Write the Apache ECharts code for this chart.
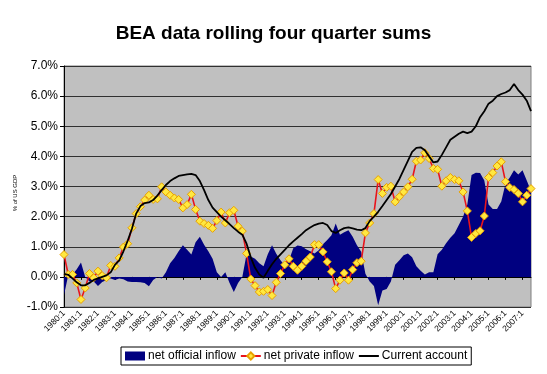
<!DOCTYPE html>
<html>
<head>
<meta charset="utf-8">
<script src="https://cdn.jsdelivr.net/npm/echarts@6/dist/echarts.min.js"></script>
<style>
html,body{margin:0;padding:0;background:#fff;}
#chart{width:547px;height:374px;}
</style>
</head>
<body>
<div id="chart"></div>
<script>
// Quarterly categories 1980:1 .. 2007:3
var years = [1980,1981,1982,1983,1984,1985,1986,1987,1988,1989,1990,1991,1992,1993,1994,1995,1996,1997,1998,1999,2000,2001,2002,2003,2004,2005,2006,2007];
var quarters = [1,2,3,4];
var lastQuarter = 3;
var categories = [];
years.forEach(function(y){
  quarters.forEach(function(q){
    if (y === 2007 && q > lastQuarter) return;
    categories.push(y + ':' + q);
  });
});

var yTicks = [-1,0,1,2,3,4,5,6,7];

// net official inflow, % of US GDP
var officialInflow = [
 -0.6,0.05,0.08,0.25,0.48,0.0,-0.15,-0.15,-0.3,-0.17,
 -0.1,-0.05,-0.1,-0.05,-0.08,-0.15,-0.17,-0.17,-0.18,-0.2,
 -0.31,-0.1,0.0,-0.05,0.15,0.45,0.63,0.85,1.05,0.9,
 0.74,1.15,1.33,1.07,0.85,0.6,0.15,0.0,0.15,-0.2,
 -0.5,-0.2,0.0,0.75,0.68,0.6,0.45,0.35,0.75,1.05,
 0.77,0.55,0.38,0.55,0.95,1.04,1.02,0.92,0.85,0.78,
 0.88,1.08,1.22,1.38,1.77,1.4,1.48,1.55,1.33,1.05,
 0.83,0.1,-0.15,-0.3,-0.94,-0.45,-0.4,-0.15,0.4,0.55,
 0.72,0.78,0.65,0.35,0.2,0.08,0.15,0.15,0.75,0.9,
 1.12,1.3,1.45,1.72,2.0,2.4,3.38,3.46,3.45,3.2,
 2.4,2.25,2.25,2.5,3.1,3.3,3.54,3.4,3.54,3.2,
 2.85
];

// net private inflow, % of US GDP
var privateInflow = [
 0.74,0.08,0.08,-0.2,-0.75,-0.37,0.11,-0.03,0.19,0.04,
 -0.03,0.38,0.35,0.63,0.99,1.1,1.63,2.1,2.33,2.55,
 2.71,2.57,2.59,2.99,2.82,2.71,2.62,2.57,2.29,2.40,
 2.74,2.24,1.85,1.77,1.71,1.61,1.87,2.15,1.79,2.13,
 2.21,1.68,1.52,0.78,-0.07,-0.29,-0.5,-0.48,-0.42,-0.62,
 -0.18,0.11,0.4,0.6,0.35,0.22,0.35,0.52,0.66,1.07,
 1.07,0.83,0.5,0.17,-0.39,-0.11,0.13,-0.11,0.24,0.47,
 0.52,1.46,1.79,2.1,3.23,2.77,2.97,3.01,2.49,2.66,
 2.82,2.99,3.24,3.84,3.88,4.12,3.93,3.6,3.57,3.01,
 3.19,3.3,3.23,3.19,2.82,2.19,1.31,1.44,1.53,2.02,
 3.3,3.46,3.68,3.82,3.16,2.97,2.9,2.77,2.49,2.71,
 2.93
];

// Current account, % of US GDP
var currentAccount = [
 0.1,0.07,-0.05,-0.18,-0.28,-0.28,-0.2,-0.1,-0.05,0.0,
 0.05,0.15,0.4,0.55,0.85,1.2,1.6,2.1,2.35,2.45,
 2.47,2.55,2.7,2.88,3.05,3.18,3.27,3.35,3.38,3.4,
 3.42,3.38,3.18,2.88,2.55,2.3,2.15,2.0,1.88,1.75,
 1.62,1.5,1.4,1.1,0.65,0.3,0.08,-0.03,0.2,0.42,
 0.6,0.75,0.9,1.05,1.18,1.3,1.42,1.55,1.64,1.72,
 1.77,1.79,1.72,1.52,1.46,1.55,1.62,1.64,1.61,1.57,
 1.55,1.62,1.85,2.0,2.16,2.35,2.55,2.75,3.0,3.25,
 3.55,3.85,4.15,4.28,4.3,4.2,4.0,3.8,3.83,4.05,
 4.3,4.55,4.65,4.75,4.82,4.77,4.82,5.0,5.3,5.5,
 5.75,5.85,6.0,6.07,6.12,6.2,6.4,6.2,6.05,5.85,
 5.5
];

var FONT = '"Liberation Sans", Arial, sans-serif';
var chart = echarts.init(document.getElementById('chart'), null, {renderer: 'canvas'});

chart.setOption({
  backgroundColor: '#ffffff',
  animation: false,
  textStyle: {fontFamily: FONT, color: '#000'},
  title: {
    text: 'BEA data rolling four quarter sums',
    left: 'center',
    top: 19,
    textStyle: {fontFamily: FONT, fontSize: 19, fontWeight: 'bold', color: '#000'}
  },
  graphic: [{
    type: 'text',
    x: 15,
    y: 193,
    rotation: Math.PI / 2,
    style: {
      text: '% of US GDP',
      align: 'center',
      verticalAlign: 'middle',
      fontFamily: FONT,
      fontSize: 6,
      fill: '#000'
    }
  }],
  legend: {
    left: 121,
    top: 347,
    padding: [3, 4, 3, 4],
    itemGap: 4,
    itemWidth: 20,
    itemHeight: 9,
    borderColor: '#000',
    borderWidth: 1,
    backgroundColor: '#fff',
    textStyle: {fontFamily: FONT, fontSize: 12, color: '#000', padding: [0,0,0,-2]},
    data: [
      {name: 'net official inflow', icon: 'rect'},
      {name: 'net private inflow'},
      {name: 'Current account', itemStyle: {opacity: 0}}
    ]
  },
  grid: {
    left: 64, right: 16, top: 66, bottom: 67,
    show: true,
    backgroundColor: '#C0C0C0',
    borderColor: '#808080',
    borderWidth: 1
  },
  xAxis: [
    {
      type: 'category',
      data: categories,
      boundaryGap: false,
      position: 'bottom',
      axisLine: {show: false, onZero: false},
      axisTick: {show: false},
      splitLine: {show: false},
      axisLabel: {
        interval: 3,
        rotate: 45,
        margin: 5,
        fontSize: 8.5,
        fontFamily: FONT,
        color: '#000'
      }
    },
    {
      type: 'category',
      data: categories,
      boundaryGap: false,
      position: 'bottom',
      axisLine: {show: true, onZero: true, onZeroAxisIndex: 0, lineStyle: {color: '#000', width: 1}},
      axisTick: {show: true, interval: 3, length: 3, inside: false, lineStyle: {color: '#000'}},
      axisLabel: {show: false},
      splitLine: {show: false}
    }
  ],
  yAxis: {
    type: 'value',
    min: yTicks[0],
    max: yTicks[yTicks.length - 1],
    interval: 1,
    axisLine: {show: true, lineStyle: {color: '#000', width: 1}},
    axisTick: {show: true, length: 4, lineStyle: {color: '#000'}},
    axisLabel: {
      margin: 6,
      fontSize: 12,
      fontFamily: FONT,
      color: '#000',
      formatter: function (v) { return v.toFixed(1) + '%'; }
    },
    splitLine: {show: true, lineStyle: {color: '#303030', width: 1}}
  },
  series: [
    {
      name: 'net official inflow',
      type: 'line',
      xAxisIndex: 0,
      data: officialInflow,
      showSymbol: false,
      symbol: 'none',
      lineStyle: {width: 0, color: '#000080'},
      itemStyle: {color: '#000080'},
      areaStyle: {color: '#000080', opacity: 1, origin: 'auto'},
      z: 2
    },
    {
      name: 'net private inflow',
      type: 'line',
      xAxisIndex: 0,
      data: privateInflow,
      symbol: 'diamond',
      symbolSize: 8,
      showAllSymbol: true,
      lineStyle: {color: '#E8141C', width: 1.6},
      itemStyle: {color: '#FFE840', borderColor: '#E8A000', borderWidth: 1},
      z: 3
    },
    {
      name: 'Current account',
      type: 'line',
      xAxisIndex: 0,
      data: currentAccount,
      symbol: 'none',
      showSymbol: false,
      lineStyle: {color: '#000', width: 1.8},
      itemStyle: {color: '#000'},
      z: 4
    }
  ]
});
</script>
</body>
</html>
